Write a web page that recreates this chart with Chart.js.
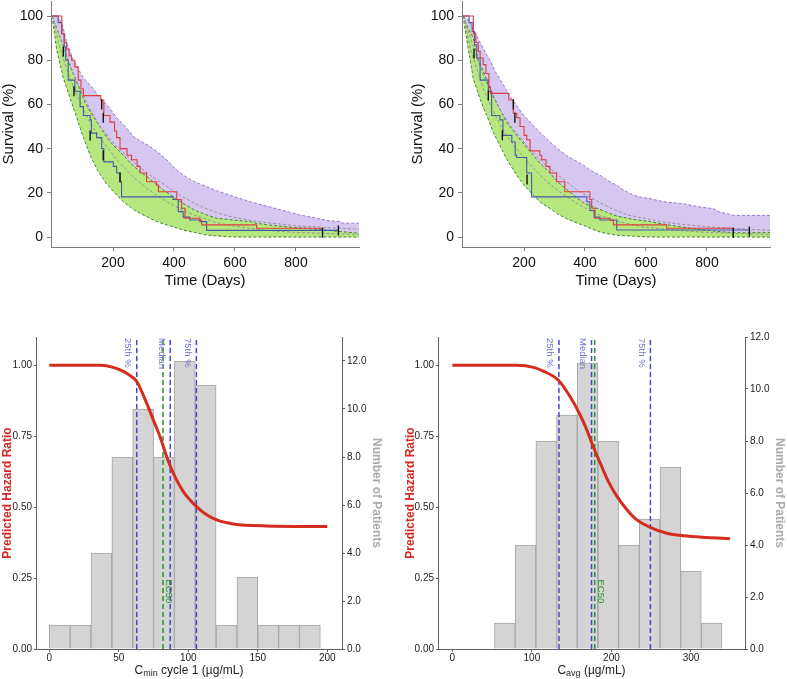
<!DOCTYPE html>
<html>
<head>
<meta charset="utf-8">
<script src="https://cdn.jsdelivr.net/npm/chart.js@4.4.0/dist/chart.umd.min.js"></script>
<style>
  html, body { margin: 0; padding: 0; background: #fff; }
  body { width: 787px; height: 679px; position: relative; overflow: hidden; }
  canvas { position: absolute; }
</style>
</head>
<body>
<canvas id="kmCmin" width="365" height="300" style="left:0;top:0;width:365px;height:300px"></canvas>
<canvas id="kmCavg" width="367" height="300" style="left:409px;top:0;width:367px;height:300px"></canvas>
<canvas id="hrCmin" width="395" height="379" style="left:0;top:300px;width:395px;height:379px"></canvas>
<canvas id="hrCavg" width="387" height="379" style="left:400px;top:300px;width:387px;height:379px"></canvas>
<script>
// ---- survival panels (time in days, survival in %) ----
const timeTicks = [200, 400, 600, 800];
const survivalTicks = [0, 20, 40, 60, 80, 100];

const kmCminPurpleHi = [[0,100],[20,100],[36,95],[48,88],[70,80],[103,72],[130,68],[157,63],[185,59],[212,54],[240,50],[267,45.5],[295,43],[321,41],[350,38],[376,35],[400,31.5],[430,28],[460,25.5],[485,24],[540,21],[594,18.5],[649,16],[704,14],[758,12],[813,10],[870,8.5],[900,7.5],[944,7],[950,6.3],[1007,6.3]];
const kmCminPurpleLo = [[0,100],[25,88],[48,78],[70,70],[92,63],[124,55],[157,47],[212,37],[267,29],[321,23],[376,18],[430,13.5],[485,10],[540,7.5],[594,6],[703,4.5],[813,3.5],[944,2],[1007,1.5]];
const kmCminGreenHi = [[0,100],[11,96],[25,91],[36,87],[48,82],[59,77.6],[75,72],[92,66.7],[108,61],[124,57],[140,53.5],[157,50],[185,44],[212,40],[234,37],[260,33],[290,29.5],[310,27.5],[340,24],[365,21.3],[400,18],[430,15.2],[470,12],[507,10],[540,8.5],[594,7.7],[650,7],[671,6.2],[715,5.4],[780,4.5],[870,3.5],[944,2.5],[1007,1.7]];
const kmCminGreenLo = [[0,100],[8,92],[15,85],[37,72],[59,63],[81,54],[103,45],[125,37],[150,30],[179,24],[212,19],[234,16],[267,12.5],[289,10.7],[343,7],[400,4.5],[430,3.2],[470,2],[507,0.9],[560,0.3],[600,0],[1007,0]];
const kmCminGrayA = [[0,100],[25,91],[48,82],[70,74],[92,67],[124,58],[157,50],[212,41],[267,34],[321,28],[376,23],[430,18],[485,14],[540,11],[594,9],[650,7.5],[703,6.5],[813,5],[1007,3.5]];
const kmCminGrayB = [[0,100],[25,86],[48,76],[70,68],[92,61],[124,52],[157,45],[212,35],[267,27],[321,21],[376,16],[430,12],[485,9],[540,6.5],[594,5],[703,3],[813,2],[1007,1.2]];
const kmCminRed = [[0,100],[32,92],[40,88],[48,85],[56,82],[64,80],[75,77],[86,71],[95,67],[103,64],[160,62],[170,55],[190,52],[205,48],[212,45],[223,40],[246,37],[261,35],[279,32],[289,29],[310,25],[343,23.5],[349,20.5],[409,17],[425,13],[436,8.5],[485,7.7],[491,5.5],[671,4],[887,4]];
const kmCminBlue = [[0,100],[20,97],[32,92],[40,86],[45,80],[53,71],[75,66],[92,59],[103,55],[125,53],[129,47],[146,45],[163,40],[170,34],[201,32],[212,29],[223,25],[228,18.2],[397,17],[414,11.5],[430,9],[452,7.7],[485,7],[507,3],[939,3]];
const kmCminCensor = [[37,84],[72,66],[125,46],[163,60],[168,54],[168,37],[223,27],[887,2],[939,3]];

const kmCavgPurpleHi = [[0,100],[20,98],[34,94],[45,91],[60,87],[75,83],[89,80],[105,75],[121,71.5],[140,67],[158,63],[176,59.4],[200,55],[230,50.5],[255,47],[285,43],[310,40],[340,36.8],[370,34.5],[395,32.5],[420,30],[449,28],[475,25.5],[504,23.4],[530,21],[558,19],[585,18],[613,17.4],[640,16.5],[668,15.8],[722,15.1],[777,13.6],[820,12.9],[842,11.3],[870,10.5],[886,9.8],[1007,9.8]];
const kmCavgPurpleLo = [[0,100],[25,88],[45,80],[67,72],[89,64],[121,56],[157,47],[200,39],[255,31],[310,24],[370,17],[420,13],[475,10],[530,8],[613,6.3],[720,4],[830,2.4],[1007,1.8]];
const kmCavgGreenHi = [[0,100],[15,95],[34,90],[50,80],[67,75],[83,69],[99,64],[120,58],[143,52],[160,49],[176,46],[200,42],[230,37],[255,33],[285,29],[310,25],[340,21.6],[370,18],[395,15.5],[420,14],[449,12.5],[475,11],[504,9.5],[558,8],[613,7],[668,5.6],[720,4.5],[777,3.4],[830,2.6],[886,2],[1007,2]];
const kmCavgGreenLo = [[0,100],[12,89.5],[23,80.5],[34,71.5],[45,67],[56,62.4],[67,58.5],[78,55],[99,47.4],[121,41.4],[143,35.4],[160,31.5],[176,28],[200,23.5],[230,19],[255,15.5],[285,13],[310,10.5],[340,8.3],[370,6.5],[395,5.3],[420,3.8],[449,2.3],[475,1.5],[504,0.8],[560,0.4],[620,0],[1007,0]];
const kmCavgGrayA = [[0,100],[25,90],[48,80],[70,72],[92,65],[124,57],[157,50],[212,41],[267,33],[321,27],[376,21],[430,17],[485,13],[540,10],[594,8.5],[650,7],[703,6],[813,4.5],[1007,3]];
const kmCavgGrayB = [[0,100],[25,85],[48,75],[70,66],[92,59],[124,50],[157,43],[212,34],[267,26],[321,20],[376,15],[430,11],[485,8],[540,6],[594,4.5],[703,3],[813,2],[1007,1.2]];
const kmCavgRed = [[0,100],[34,92],[42,88],[50,84],[56,81],[66,78],[75,74],[85,68],[90,65],[150,62],[165,56],[176,54],[187,50],[200,46],[209,44],[220,39],[252,37],[258,35],[272,32],[285,29],[307,25],[334,20.5],[416,17],[422,13],[433,8.5],[482,7.5],[493,5.5],[668,4],[886,4]];
const kmCavgBlue = [[0,100],[20,97],[30,93],[38,87],[45,81],[56,71],[83,66],[94,55],[121,53],[131,46],[160,43],[171,37],[176,36],[209,29],[225,18.2],[406,16],[416,12],[430,9],[449,7.7],[504,3.2],[937,3.2]];
const kmCavgCensor = [[36,83],[83,64],[129,46],[165,60],[170,54],[210,26],[886,2],[939,2.5]];

// ---- hazard ratio panels ----
const hrTicks = [0, 0.25, 0.5, 0.75, 1];
const countTicks = [0, 2, 4, 6, 8, 10, 12];

const cminTicks = [0, 50, 100, 150, 200];
const cminBinMids = [7.5, 22.5, 37.5, 52.5, 67.5, 82.5, 97.5, 112.5, 127.5, 142.5, 157.5, 172.5, 187.5];
const cminCounts = [1, 1, 4, 8, 10, 8, 12, 11, 1, 3, 1, 1, 1];
const cminCurve = [[0,1],[36.5,1],[46,0.993],[53.3,0.979],[58.1,0.964],[62.8,0.944],[70,0.867],[74.8,0.808],[79.6,0.749],[84.4,0.679],[89.2,0.62],[96.4,0.555],[105.9,0.502],[113.2,0.473],[120.4,0.455],[132.4,0.441],[156.4,0.434],[200,0.432]];
const cminPercentiles = [62.9, 87, 105.8];
const cminEc50 = 81.8;

const cavgTicks = [0, 100, 200, 300];
const cavgBinMids = [66, 92, 118, 144, 170, 196, 222, 248, 274, 300, 326];
const cavgCounts = [1, 4, 8, 9, 11, 8, 4, 5, 7, 3, 1];
const cavgCurve = [[0,1],[81,1],[102,0.993],[115,0.979],[134,0.946],[148,0.89],[160.5,0.826],[169,0.773],[177,0.714],[186,0.655],[196,0.591],[207,0.538],[219.5,0.491],[232,0.455],[249.5,0.428],[269.5,0.408],[290.5,0.399],[320,0.393],[349,0.389]];
const cavgPercentiles = [134, 175, 249];
const cavgEc50 = 179;

const percentileNames = ['25th %', 'Median', '75th %'];

const FONT = '"Liberation Sans", Arial, Helvetica, sans-serif';
Chart.defaults.font.family = FONT;
Chart.defaults.animation = false;
Chart.defaults.plugins.legend.display = false;
Chart.defaults.plugins.tooltip.enabled = false;

const pts = arr => arr.map(p => ({ x: p[0], y: p[1] }));
const fixTicks = vals => scale => { scale.ticks = vals.map(v => ({ value: v })); };
// fixed axis box sizes, and no extra room for half tick labels at the ends
const fixHeight = h => s => { s.height = h; s.paddingLeft = 0; s.paddingRight = 0; };
const fixWidth = w => s => { s.width = w; s.paddingTop = 0; s.paddingBottom = 0; };

function survivalChart(id, km, yAxisWidth) {
    const band = (arr, color, extra) => Object.assign({
        data: pts(arr), borderColor: color, borderWidth: 1, borderDash: [3, 2],
        pointRadius: 0, fill: false, tension: 0
    }, extra);
    const step = (arr, color, order) => ({
        data: pts(arr), borderColor: color, borderWidth: 1.1, pointRadius: 0,
        stepped: true, fill: false, order: order
    });
    const axisGray = 'rgb(125,125,125)';

    return new Chart(document.getElementById(id), {
        type: 'line',
        data: {
            datasets: [
                band(km.purpleHi, 'rgb(150,120,205)', { fill: 1, backgroundColor: 'rgb(213,199,240)', order: 10 }),
                band(km.purpleLo, 'rgba(0,0,0,0)', { order: 11 }),
                band(km.greenHi, 'rgb(70,130,50)', { fill: 3, backgroundColor: 'rgb(183,232,128)', order: 8 }),
                band(km.greenLo, 'rgb(70,130,50)', { order: 7 }),
                band(km.grayA, 'rgb(150,150,150)', { order: 6 }),
                band(km.grayB, 'rgb(150,150,150)', { order: 6 }),
                step(km.blue, 'rgb(70,90,170)', 4),
                step(km.red, 'rgb(228,60,60)', 3),
                {
                    data: pts(km.censor), showLine: false, pointStyle: 'line', pointRadius: 5,
                    pointRotation: 90, pointBorderColor: '#111', pointBorderWidth: 1.4, order: 1
                }
            ]
        },
        options: {
            responsive: false,
            layout: { autoPadding: false, padding: { left: 0, top: 1, right: 6, bottom: 0 } },
            scales: {
                x: {
                    type: 'linear', min: -3.3, max: 1006.6,
                    afterBuildTicks: fixTicks(timeTicks),
                    afterFit: fixHeight(53),
                    grid: { drawOnChartArea: false, tickLength: 4, color: axisGray },
                    border: { color: axisGray },
                    ticks: { padding: 4, color: '#111', font: { size: 14 }, maxRotation: 0, autoSkip: false },
                    title: { display: true, text: 'Time (Days)', color: '#111', font: { size: 15 }, padding: { top: 0, bottom: 10 } }
                },
                y: {
                    type: 'linear', min: -4.5, max: 106.8,
                    afterBuildTicks: fixTicks(survivalTicks),
                    afterFit: fixWidth(yAxisWidth),
                    grid: { drawOnChartArea: false, tickLength: 4, color: axisGray },
                    border: { color: axisGray },
                    ticks: { padding: 4, color: '#111', font: { size: 14 }, autoSkip: false },
                    title: { display: true, text: 'Survival (%)', color: '#111', font: { size: 15 }, padding: { top: 0, bottom: 0 } }
                }
            }
        }
    });
}

function markLabels(percentiles, ec50) {
    return {
        id: 'markLabels',
        afterDatasetsDraw(chart) {
            const { ctx, chartArea, scales } = chart;
            const items = percentiles.map((v, i) => ({
                text: percentileNames[i], x: scales.x.getPixelForValue(v) - 9,
                y: chartArea.top + 1, color: 'rgb(115,115,205)'
            }));
            items.push({ text: 'EC50', x: scales.x.getPixelForValue(ec50) + 6,
                y: scales.y.getPixelForValue(0.245), color: 'rgb(40,150,40)' });
            ctx.save();
            ctx.font = '9.5px ' + FONT;
            ctx.textAlign = 'left';
            ctx.textBaseline = 'middle';
            items.forEach(it => {
                ctx.save();
                ctx.translate(it.x, it.y);
                ctx.rotate(Math.PI / 2);
                ctx.fillStyle = it.color;
                ctx.fillText(it.text, 0, 0);
                ctx.restore();
            });
            ctx.restore();
        }
    };
}

function subTitle(main, sub, rest) {
    return {
        id: 'subTitle',
        afterDraw(chart) {
            const { ctx, chartArea } = chart;
            const big = '12px ' + FONT, small = '9px ' + FONT;
            ctx.save();
            ctx.font = big;
            const w1 = ctx.measureText(main).width;
            const w3 = ctx.measureText(rest).width;
            ctx.font = small;
            const w2 = ctx.measureText(sub).width;
            let x = (chartArea.left + chartArea.right) / 2 - (w1 + w2 + w3) / 2;
            const y = chart.height - 5;
            ctx.fillStyle = '#222';
            ctx.textAlign = 'left';
            ctx.textBaseline = 'alphabetic';
            ctx.font = big; ctx.fillText(main, x, y); x += w1;
            ctx.font = small; ctx.fillText(sub, x, y + 2); x += w2;
            ctx.font = big; ctx.fillText(rest, x, y);
            ctx.restore();
        }
    };
}

function hazardChart(id, h) {
    const vline = (v, color) => ({
        data: [{ x: v, y: 0 }, { x: v, y: 1.1 }], yAxisID: 'y',
        borderColor: color, borderWidth: 1.5, borderDash: [5, 3], pointRadius: 0, order: 5
    });
    const axisGray = 'rgb(95,95,95)';
    const datasets = [{
        type: 'bar', yAxisID: 'y2', order: 10,
        data: h.bins.map((b, i) => ({ x: b, y: h.counts[i] })),
        backgroundColor: 'rgb(212,212,212)', borderColor: 'rgb(165,165,165)', borderWidth: 1,
        barPercentage: 1, categoryPercentage: 1
    }];
    h.percentiles.forEach(v => datasets.push(vline(v, 'rgb(70,70,205)')));
    datasets.push(vline(h.ec50, 'rgb(40,150,40)'));
    datasets.push({
        data: pts(h.curve), yAxisID: 'y', borderColor: 'rgb(212,45,32)', borderWidth: 3,
        pointRadius: 0, cubicInterpolationMode: 'monotone', order: 1
    });

    return new Chart(document.getElementById(id), {
        type: 'line',
        data: { datasets: datasets },
        options: {
            responsive: false,
            layout: { autoPadding: false, padding: { left: 0, top: 37, right: 0, bottom: 0 } },
            scales: {
                x: {
                    type: 'linear', min: h.xMin, max: h.xMax, offset: false,
                    afterBuildTicks: fixTicks(h.xTicks),
                    afterFit: fixHeight(30),
                    grid: { drawOnChartArea: false, tickLength: 3, color: axisGray, offset: false },
                    border: { color: axisGray },
                    ticks: { padding: 0, color: '#222', font: { size: 10 }, maxRotation: 0, autoSkip: false }
                },
                y: {
                    type: 'linear', position: 'left', min: 0, max: 1.1,
                    afterBuildTicks: fixTicks(hrTicks),
                    afterFit: fixWidth(h.leftWidth),
                    grid: { drawOnChartArea: false, tickLength: 2, color: axisGray },
                    border: { color: axisGray },
                    ticks: { padding: 2, color: '#222', font: { size: 10 }, autoSkip: false, callback: v => v.toFixed(2) },
                    title: { display: true, text: 'Predicted Hazard Ratio', color: 'rgb(214,40,36)',
                        font: { size: 12, weight: 'bold' }, padding: { top: h.leftTitlePad, bottom: 0 } }
                },
                y2: {
                    type: 'linear', position: 'right', min: 0, max: h.countMax,
                    afterBuildTicks: fixTicks(countTicks),
                    afterFit: fixWidth(h.rightWidth),
                    grid: { drawOnChartArea: false, tickLength: 3, color: axisGray },
                    border: { color: axisGray },
                    ticks: { padding: 2, color: '#222', font: { size: 10 }, autoSkip: false, callback: v => v.toFixed(1) },
                    title: { display: true, text: 'Number of Patients', color: 'rgb(170,170,170)',
                        font: { size: 12, weight: 'bold' }, padding: { top: h.rightTitlePad, bottom: 0 } }
                }
            }
        },
        plugins: [markLabels(h.percentiles, h.ec50), subTitle('C', h.sub, h.rest)]
    });
}

survivalChart('kmCmin', {
    purpleHi: kmCminPurpleHi, purpleLo: kmCminPurpleLo, greenHi: kmCminGreenHi, greenLo: kmCminGreenLo,
    grayA: kmCminGrayA, grayB: kmCminGrayB, red: kmCminRed, blue: kmCminBlue, censor: kmCminCensor
}, 51);

survivalChart('kmCavg', {
    purpleHi: kmCavgPurpleHi, purpleLo: kmCavgPurpleLo, greenHi: kmCavgGreenHi, greenLo: kmCavgGreenLo,
    grayA: kmCavgGrayA, grayB: kmCavgGrayB, red: kmCavgRed, blue: kmCavgBlue, censor: kmCavgCensor
}, 53);

hazardChart('hrCmin', {
    bins: cminBinMids, counts: cminCounts, curve: cminCurve, percentiles: cminPercentiles, ec50: cminEc50,
    xTicks: cminTicks, xMin: -9.6, xMax: 210.6, countMax: 13,
    leftWidth: 36, rightWidth: 53, leftTitlePad: 0, rightTitlePad: 11,
    sub: 'min', rest: ' cycle 1 (\u00b5g/mL)'
});

hazardChart('hrCavg', {
    bins: cavgBinMids, counts: cavgCounts, curve: cavgCurve, percentiles: cavgPercentiles, ec50: cavgEc50,
    xTicks: cavgTicks, xMin: -18, xMax: 367.9, countMax: 12,
    leftWidth: 38, rightWidth: 42, leftTitlePad: 3, rightTitlePad: 0,
    sub: 'avg', rest: ' (\u00b5g/mL)'
});
</script>
</body>
</html>
